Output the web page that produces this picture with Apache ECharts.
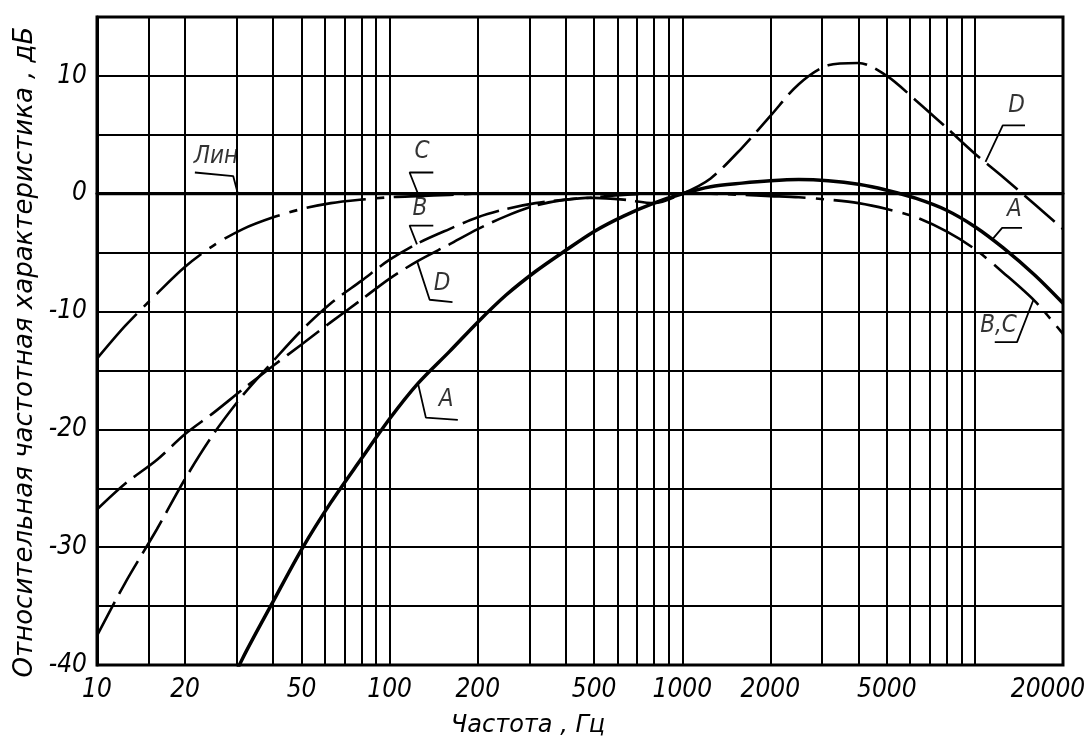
<!DOCTYPE html>
<html>
<head>
<meta charset="utf-8">
<title>Частотные характеристики</title>
<script src="https://cdn.jsdelivr.net/npm/echarts@6/dist/echarts.min.js"></script>
<style>
html, body { margin: 0; padding: 0; background: #fff; }
#chart { width: 1087px; height: 743px; }
</style>
</head>
<body>
<div id="chart"></div>
<script type="text/javascript">
// частоты, Гц (третьоктавный ряд)
var freqs = [10, 12.5, 16, 20, 25, 31.5, 40, 50, 63, 80, 100, 125, 160, 200, 250, 315, 400, 500, 630, 800,
             1000, 1250, 1600, 2000, 2500, 3150, 4000, 5000, 6300, 8000, 10000, 12500, 16000, 20000];
// характеристики, дБ
var curveA = [null, null, null, null, -44.7, -39.4, -34.6, -30.2, -26.2, -22.5, -19.1, -16.1, -13.4, -10.9, -8.6, -6.6, -4.8, -3.2, -1.9, -0.8,
              0, 0.6, 0.9, 1.1, 1.2, 1.1, 0.8, 0.3, -0.4, -1.4, -2.8, -4.6, -6.9, -9.3];
var curveB = [-37.5, -33.0, -28.5, -24.2, -20.4, -17.1, -14.2, -11.6, -9.3, -7.4, -5.6, -4.2, -3.0, -2.0, -1.3, -0.8, -0.5, -0.3, -0.1, 0,
              0, null, null, null, null, null, null, null, null, null, null, null, null, null];
var curveC = [-14.0, -11.2, -8.5, -6.2, -4.4, -3.0, -2.0, -1.3, -0.8, -0.5, -0.3, -0.2, -0.1, 0, 0, 0, 0, 0, 0, 0,
              0, 0, -0.1, -0.2, -0.3, -0.5, -0.8, -1.3, -2.0, -3.2, -4.7, -6.7, -9.1, -11.9];
var curveD = [-26.8, -24.6, -22.6, -20.4, -18.6, -16.6, -14.6, -12.8, -10.9, -9.0, -7.2, -5.7, -4.3, -3.0, -1.9, -1.0, -0.5, -0.35, -0.5, -0.8,
              0, 1.3, 3.9, 6.6, 9.3, 10.9, 11.1, 10.0, 7.9, 5.6, 3.4, 1.4, -0.9, -3.0];
// линейная характеристика
var linFreqs = [10, 20000];
var linDb = [0, 0];

// сетка и подписи оси частот
var gridFreqs = [10, 15, 20, 30, 40, 50, 60, 70, 80, 90, 100, 200, 300, 400, 500, 600, 700, 800, 900,
                 1000, 2000, 3000, 4000, 5000, 6000, 7000, 8000, 9000, 10000, 20000];
var labelFreqs = [10, 20, 50, 100, 200, 500, 1000, 2000, 5000, 20000];

// выноски: точка на кривой, излом, конец полки, место надписи ([Гц, дБ])
var notes = [
  { text: 'Лин', curve: [30.3, 0], knee: [29.2, 1.5], end: [21.6, 1.8], at: [25.5, 3.1] },
  { text: 'C', curve: [125, 0], knee: [117, 1.8], end: [141, 1.8], at: [129, 3.6] },
  { text: 'B', curve: [124, -4.3], knee: [117, -2.7], end: [141, -2.7], at: [127, -1.3] },
  { text: 'D', curve: [124, -5.7], knee: [137, -9.0], end: [164, -9.2], at: [151, -7.6] },
  { text: 'A', curve: [125, -16.1], knee: [133, -19.0], end: [171, -19.2], at: [156, -17.5] },
  { text: 'D', curve: [10870, 2.7], knee: [12450, 5.8], end: [14830, 5.8], at: [13870, 7.5] },
  { text: 'A', curve: [11450, -3.9], knee: [12390, -2.9], end: [14490, -2.9], at: [13640, -1.4] },
  { text: 'B,C', curve: [15850, -9.0], knee: [13930, -12.6], end: [11690, -12.6], at: [12040, -11.2] }
];

var lg = function (f) { return Math.log10(f); };
var xMin = lg(10), xMax = lg(20000);
var techFont = '"Liberation Sans Narrow", "DejaVu Sans Condensed", "DejaVu Sans", sans-serif';

function pairs(fs, vals) {
  var out = [];
  for (var i = 0; i < fs.length; i++) {
    out.push([lg(fs[i]), vals[i]]);
  }
  return out;
}

function curve(name, vals, width, dash) {
  return {
    name: name,
    type: 'line',
    data: pairs(freqs, vals),
    showSymbol: false,
    smooth: 0.3,
    connectNulls: false,
    lineStyle: { color: '#000', width: width, type: dash },
    z: 4
  };
}

var series = [
  {
    name: 'Лин',
    type: 'line',
    data: pairs(linFreqs, linDb),
    showSymbol: false,
    lineStyle: { color: '#000', width: 3.2 },
    z: 3
  },
  curve('A', curveA, 3.5, 'solid'),
  curve('B', curveB, 2.6, [38, 9]),
  curve('C', curveC, 2.6, [60, 10, 8, 10]),
  curve('D', curveD, 2.6, [40, 9])
];

// линии выносок
notes.forEach(function (n) {
  series.push({
    type: 'line',
    data: [n.curve, n.knee, n.end].map(function (p) { return [lg(p[0]), p[1]]; }),
    showSymbol: false,
    lineStyle: { color: '#000', width: 1.8 },
    z: 5
  });
});

// надписи выносок
series.push({
  type: 'scatter',
  symbolSize: 0,
  data: notes.map(function (n) { return { name: n.text, value: [lg(n.at[0]), n.at[1]] }; }),
  label: {
    show: true,
    position: 'inside',
    formatter: '{b}',
    color: '#000',
    fontFamily: techFont,
    fontStyle: 'italic',
    fontSize: 24
  },
  z: 6
});

var chart = echarts.init(document.getElementById('chart'));
var option = {
  animation: false,
  backgroundColor: '#fff',
  grid: {
    left: 97, right: 24, top: 17, bottom: 78,
    outerBoundsMode: 'none',
    show: true, borderColor: '#000', borderWidth: 3
  },
  xAxis: {
    type: 'value',
    min: xMin,
    max: xMax,
    name: 'Частота , Гц',
    nameLocation: 'middle',
    nameGap: 49,
    nameTextStyle: {
      color: '#000', fontFamily: '"DejaVu Sans", sans-serif', fontStyle: 'italic', fontSize: 24,
      padding: [0, 104, 0, 0]
    },
    axisLine: { show: true, lineStyle: { color: '#000', width: 3 } },
    axisTick: { show: false, customValues: gridFreqs.map(lg) },
    axisLabel: {
      customValues: labelFreqs.map(lg),
      color: '#000',
      fontFamily: techFont,
      fontStyle: 'italic',
      fontSize: 26,
      margin: 12,
      formatter: function (v) {
        var f = Math.round(Math.pow(10, v));
        return f === 20000 ? '{r|' + f + '}' : String(f);
      },
      rich: {
        r: { padding: [0, 30, 0, 0], color: '#000', fontFamily: techFont, fontStyle: 'italic', fontSize: 26 }
      }
    },
    splitLine: { show: true, lineStyle: { color: '#000', width: 2 } }
  },
  yAxis: {
    type: 'value',
    min: -40,
    max: 15,
    interval: 5,
    name: 'Относительная частотная характеристика , дБ',
    nameLocation: 'middle',
    nameGap: 52,
    nameTextStyle: {
      color: '#000', fontFamily: '"DejaVu Sans", sans-serif', fontStyle: 'italic', fontSize: 26,
      padding: [0, 22, 0, 0]
    },
    axisLine: { show: true, lineStyle: { color: '#000', width: 3 } },
    axisTick: { show: false },
    axisLabel: {
      color: '#000',
      fontFamily: techFont,
      fontStyle: 'italic',
      fontSize: 26,
      margin: 10,
      formatter: function (v) { return v % 10 === 0 ? String(v) : ''; }
    },
    splitLine: { show: true, lineStyle: { color: '#000', width: 2 } }
  },
  series: series
};
chart.setOption(option);
</script>
</body>
</html>
